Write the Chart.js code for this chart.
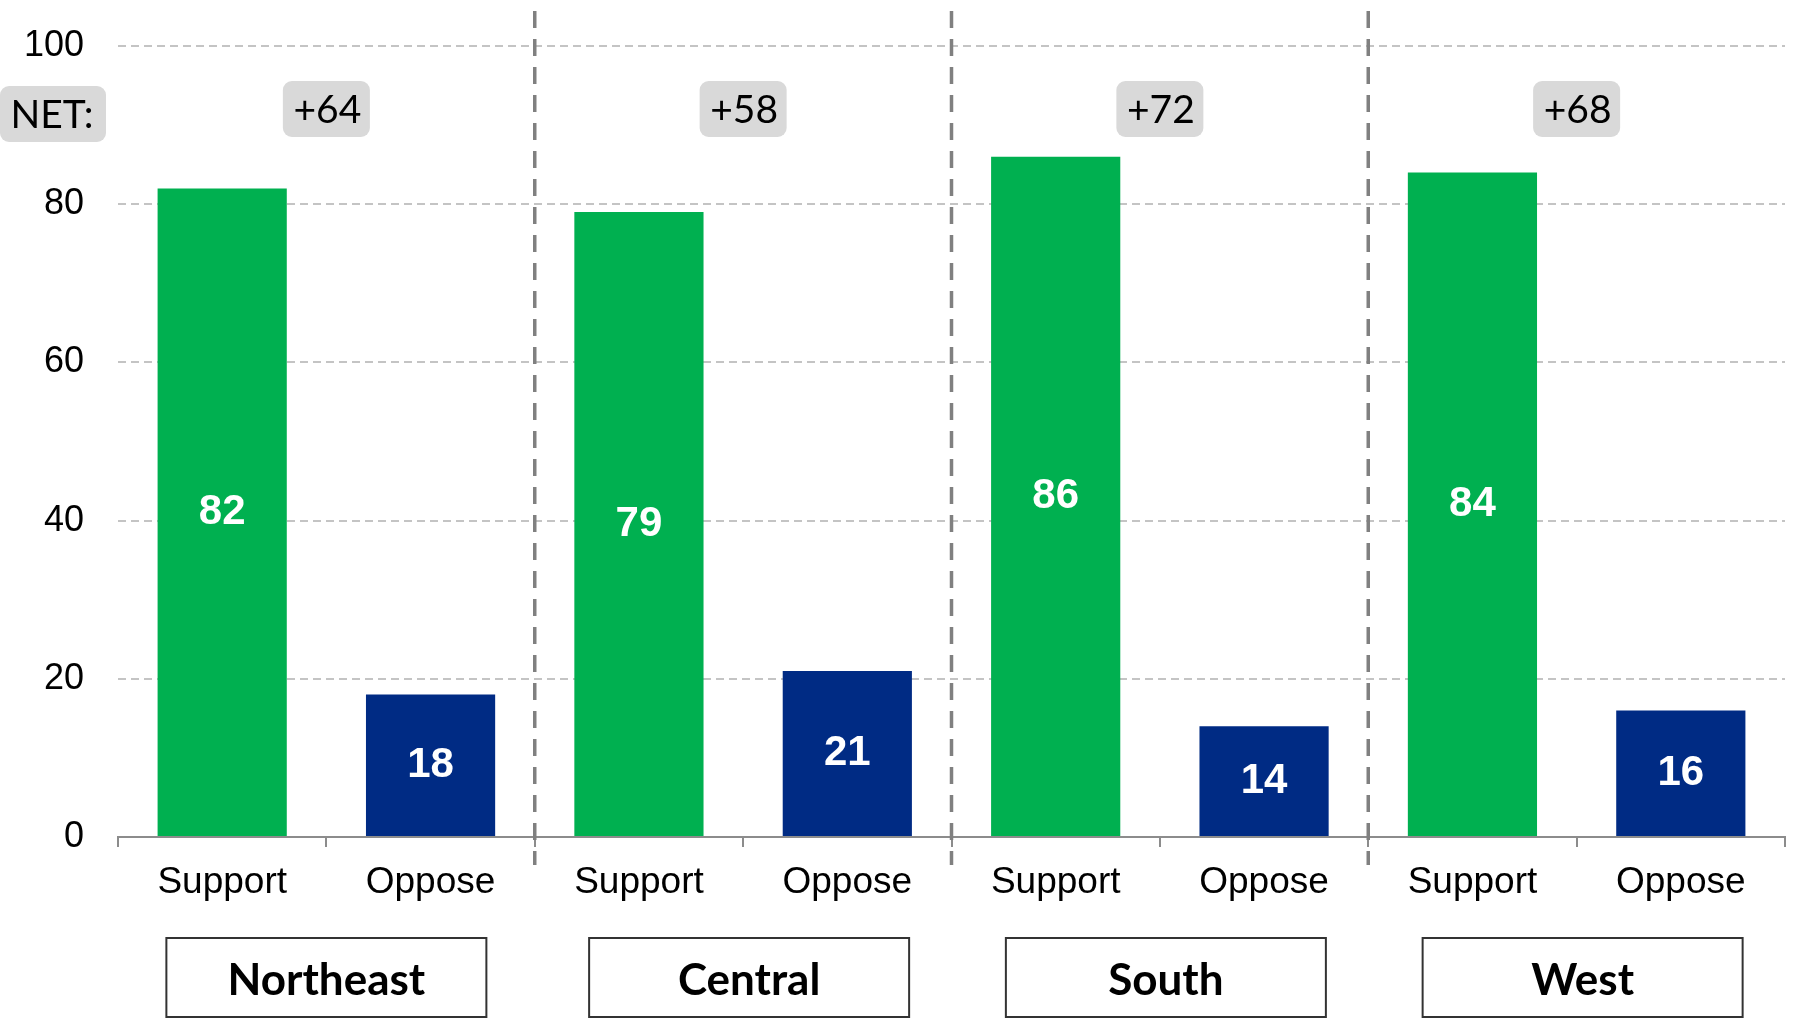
<!DOCTYPE html>
<html>
<head>
<meta charset="utf-8">
<script src="https://cdn.jsdelivr.net/npm/chart.js@4.4.1/dist/chart.umd.min.js"></script>
<style>
  body { margin: 0; background: #fff; }
</style>
</head>
<body>
<canvas id="regionChart" width="1796" height="1023"></canvas>
<script>
// DATA
const regions = ["Northeast", "Central", "South", "West"];
const answers = ["Support", "Oppose"];
const support = [82, 79, 86, 84];
const oppose = [18, 21, 14, 16];
const net = [64, 58, 72, 68];
const yTicks = [0, 20, 40, 60, 80, 100];

const GREEN = "#00b050";
const NAVY = "#002b84";

// one category per answer, grouped by region
const labels = [];
const values = [];
const colors = [];
regions.forEach((region, i) => {
  labels.push(answers[0], answers[1]);
  values.push(support[i], oppose[i]);
  colors.push(GREEN, NAVY);
});

function roundRect(ctx, x, y, w, h, r) {
  ctx.beginPath();
  ctx.moveTo(x + r, y);
  ctx.arcTo(x + w, y, x + w, y + h, r);
  ctx.arcTo(x + w, y + h, x, y + h, r);
  ctx.arcTo(x, y + h, x, y, r);
  ctx.arcTo(x, y, x + w, y, r);
  ctx.closePath();
}

// values written in the middle of each bar
const barValues = {
  id: "barValues",
  afterDatasetsDraw(chart) {
    const ctx = chart.ctx;
    const meta = chart.getDatasetMeta(0);
    ctx.save();
    ctx.fillStyle = "#fff";
    ctx.font = "bold 42px 'Liberation Sans', Arial, sans-serif";
    ctx.textAlign = "center";
    ctx.textBaseline = "middle";
    meta.data.forEach((bar, i) => {
      ctx.fillText(String(values[i]), bar.x, (bar.y + bar.base) / 2);
    });
    ctx.restore();
  }
};

// dividers, NET boxes and region boxes
const decorations = {
  id: "decorations",
  afterDraw(chart) {
    const ctx = chart.ctx;
    const x = chart.scales.x;
    ctx.save();

    // dashed dividers between regions
    ctx.strokeStyle = "#808080";
    ctx.lineWidth = 3.5;
    ctx.setLineDash([17, 11]);
    for (let i = 0; i < regions.length - 1; i++) {
      const xd = (x.getPixelForValue(2 * i + 1) + x.getPixelForValue(2 * i + 2)) / 2;
      ctx.beginPath();
      ctx.moveTo(xd, 11);
      ctx.lineTo(xd, 865);
      ctx.stroke();
    }
    ctx.setLineDash([]);

    // NET label
    ctx.fillStyle = "#d9d9d9";
    roundRect(ctx, 0, 86, 106, 56, 9);
    ctx.fill();
    ctx.fillStyle = "#000";
    ctx.font = "39px Lato, sans-serif";
    ctx.textAlign = "center";
    ctx.textBaseline = "middle";
    ctx.fillText("NET:", 52, 115);

    regions.forEach((region, i) => {
      const cx = (x.getPixelForValue(2 * i) + x.getPixelForValue(2 * i + 1)) / 2;

      // net value box
      ctx.fillStyle = "#d9d9d9";
      roundRect(ctx, cx - 43.5, 81, 87, 56, 9);
      ctx.fill();
      ctx.fillStyle = "#000";
      ctx.font = "39px Lato, sans-serif";
      ctx.fillText("+" + net[i], cx + 1, 110);

      // region name box (later boxes sit slightly right of the group centre)
      const bx = cx + (i === 0 ? 0 : 6);
      ctx.fillStyle = "#fff";
      ctx.strokeStyle = "#333";
      ctx.lineWidth = 2;
      ctx.fillRect(bx - 160, 938, 320, 79);
      ctx.strokeRect(bx - 160, 938, 320, 79);
      ctx.fillStyle = "#000";
      ctx.font = "bold 44px Lato, sans-serif";
      ctx.fillText(region, bx, 981);
    });

    ctx.restore();
  }
};

new Chart(document.querySelector("#regionChart"), {
  type: "bar",
  data: {
    labels: labels,
    datasets: [{
      data: values,
      backgroundColor: colors,
      borderWidth: 0,
      barPercentage: 0.62,
      categoryPercentage: 1.0
    }]
  },
  options: {
    responsive: false,
    animation: false,
    layout: { padding: { top: 46, right: 11, left: 0, bottom: 0 } },
    plugins: {
      legend: { display: false },
      tooltip: { enabled: false }
    },
    scales: {
      x: {
        offset: true,
        grid: {
          display: true,
          offset: true,
          drawOnChartArea: false,
          drawTicks: true,
          tickLength: 10,
          color: "#8c8c8c",
          lineWidth: 2
        },
        border: { display: true, color: "#8c8c8c", width: 2 },
        ticks: {
          color: "#000",
          padding: 14,
          font: { family: "'Liberation Sans', Arial, sans-serif", size: 37 }
        },
        afterFit(scale) { scale.height = 186; }
      },
      y: {
        min: 0,
        max: 100,
        afterBuildTicks(scale) { scale.ticks = yTicks.map(v => ({ value: v })); },
        // invisible tick marks give the gap between labels and plot
        grid: {
          color: "#c4c4c4",
          lineWidth: 2,
          drawTicks: true,
          tickLength: 34,
          tickColor: "rgba(0,0,0,0)"
        },
        border: { display: false, dash: [8, 5] },
        ticks: {
          color: "#000",
          padding: 0,
          font: { family: "'Liberation Sans', Arial, sans-serif", size: 36 }
        },
        afterFit(scale) { scale.width = 118; }
      }
    }
  },
  plugins: [barValues, decorations]
});
</script>
</body>
</html>
